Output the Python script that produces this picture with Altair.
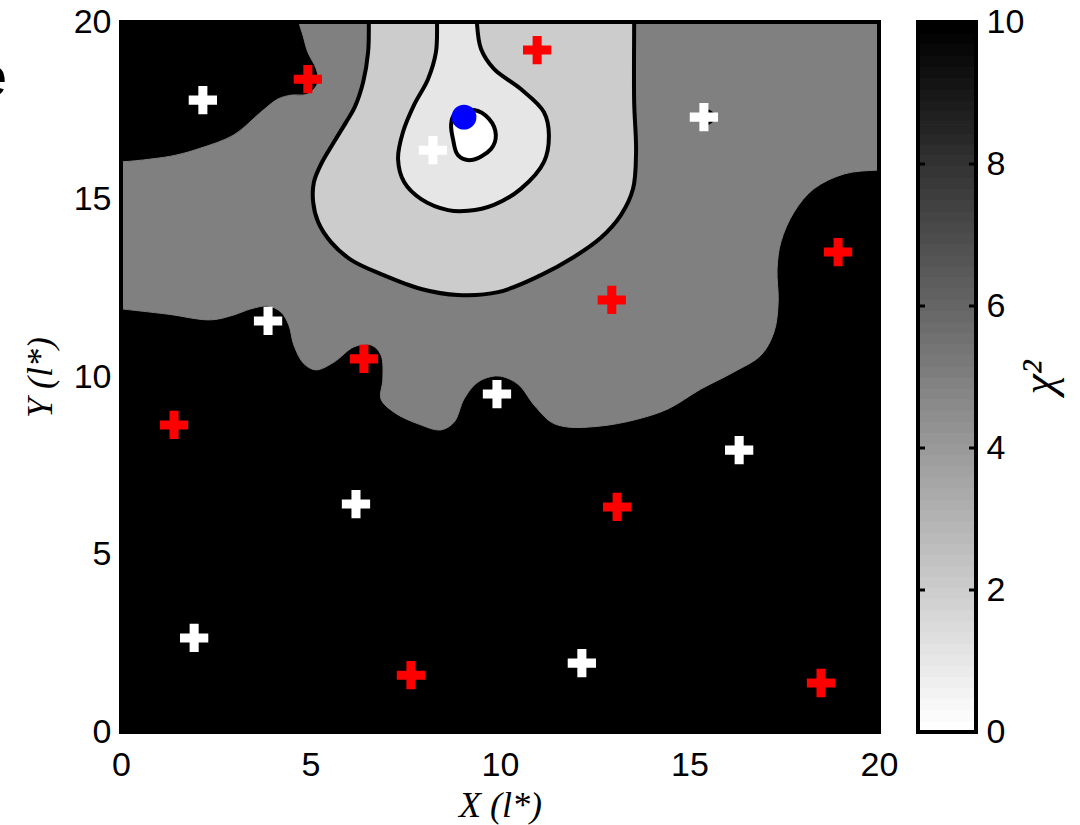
import altair as alt
import numpy as np
import pandas as pd

# ---------------------------------------------------------------------------
# Contour boundaries of chi^2 over the (X, Y) plane, in units of l*
# ---------------------------------------------------------------------------

# chi^2 = 5 band (gray) meets the black floor: lower edge, left to right
lo_x = [0, 1.24, 2.37, 2.98, 3.43, 3.88, 4.22, 4.43, 4.56, 4.83, 5.15, 5.62, 6.15,
        6.60, 6.86, 6.91, 6.86, 7.20, 7.84, 8.44, 8.79, 9.05, 9.42, 9.95, 10.47,
        10.90, 11.35, 11.79, 12.66, 13.54, 14.43, 15.30, 16.17, 16.89, 17.23,
        17.34, 17.31, 17.41, 17.76, 18.28, 19.08, 20]
lo_y = [11.92, 11.77, 11.61, 11.75, 11.92, 12.00, 11.83, 11.46, 10.90, 10.37, 10.20,
        10.42, 10.85, 10.90, 10.62, 9.94, 9.38, 9.01, 8.68, 8.51, 8.73, 9.38, 9.86,
        10.03, 9.80, 9.21, 8.73, 8.59, 8.62, 8.79, 9.10, 9.66, 10.14, 10.62, 11.27,
        12.11, 13.04, 13.80, 14.65, 15.30, 15.72, 15.83]

# black pocket in the upper-left corner, from the left edge to the top edge
tl_x = [0, 0.79, 1.45, 2.11, 2.98, 3.69, 4.14, 4.49, 4.93, 5.20, 5.15, 4.93, 4.80, 4.70]
tl_y = [16.06, 16.14, 16.25, 16.45, 16.82, 17.46, 17.83, 17.94, 17.97, 18.31, 18.68,
        19.15, 19.63, 20]

# chi^2 = 2 contour (top edge to top edge)
c2_x = [6.54, 6.52, 6.39, 6.17, 5.94, 5.62, 5.28, 5.09, 5.07, 5.20, 5.54, 6.07, 6.86,
        7.92, 8.89, 9.95, 11.08, 11.95, 12.66, 13.19, 13.51, 13.59, 13.54, 13.54]
c2_y = [20, 19.15, 18.31, 17.61, 17.18, 16.62, 16.00, 15.49, 14.93, 14.37, 13.80,
        13.30, 12.90, 12.48, 12.31, 12.39, 12.87, 13.38, 13.92, 14.56, 15.30, 16.34,
        17.75, 20]

# chi^2 = 1 contour (top edge to top edge)
c1_x = [8.34, 8.31, 8.10, 7.73, 7.44, 7.31, 7.47, 7.92, 8.63, 9.16, 9.84, 10.55,
        11.16, 11.29, 11.16, 10.55, 9.84, 9.50, 9.39]
c1_y = [20, 19.15, 18.39, 17.66, 16.90, 16.14, 15.49, 15.01, 14.70, 14.68, 14.85,
        15.30, 16.06, 16.82, 17.46, 18.11, 18.68, 19.24, 20]

# innermost closed contour around the minimum
c0_x = [8.71, 8.79, 9.31, 9.71, 9.89, 9.76, 9.23, 8.89, 8.76]
c0_y = [17.10, 17.38, 17.52, 17.27, 16.82, 16.42, 16.11, 16.25, 16.70]

# small black island under one of the white sources
island_x = [15.45]
island_y = [17.32]

# source positions
red_x = [4.93, 10.98, 12.95, 18.92, 6.41, 1.40, 13.09, 7.65, 18.47]
red_y = [18.39, 19.21, 12.17, 13.52, 10.51, 8.65, 6.34, 1.60, 1.38]
white_x = [2.16, 8.23, 15.38, 3.88, 9.92, 6.20, 16.31, 1.93, 12.16]
white_y = [17.80, 16.39, 17.32, 11.58, 9.52, 6.42, 7.94, 2.65, 1.94]

# best-fit position
best_x = [9.05]
best_y = [17.32]

# axis ranges and ticks
x_range = [0, 20]
y_range = [0, 20]
chi_range = [0, 10]
x_ticks = [0, 5, 10, 15, 20]
y_ticks = [0, 5, 10, 15, 20]
cb_labels = [0, 2, 4, 6, 8, 10]
cb_inner_ticks = [2, 4, 6, 8]

# level colours (gray colormap, chi^2 from 0 to 10)
GRAY5 = "#808080"
GRAY2 = "#cccccc"
GRAY1 = "#e6e6e6"
WHITE = "#ffffff"

W, H = 758, 710
CB_W = 58
OUT = 0.6  # how far closing vertices sit outside the frame (clipped away)


def path_df(xs, ys):
    return pd.DataFrame({"x": xs, "y": ys, "i": np.arange(len(xs))})


# gray band: lower edge, out around the upper-right corner, back along the black pocket
gray_x = lo_x + [20 + OUT, 20 + OUT, tl_x[-1]] + tl_x[::-1] + [-OUT, -OUT]
gray_y = lo_y + [lo_y[-1], 20 + OUT, 20 + OUT] + tl_y[::-1] + [tl_y[0], lo_y[0]]

# open contours, with their ends lifted past the top edge
c2_px = [c2_x[0]] + c2_x + [c2_x[-1]]
c2_py = [20 + OUT] + c2_y + [20 + OUT]
c1_px = [c1_x[0]] + c1_x + [c1_x[-1]]
c1_py = [20 + OUT] + c1_y + [20 + OUT]

# closed contour, wrapped so the spline joins smoothly
c0_px = [c0_x[-1]] + c0_x + c0_x[:2]
c0_py = [c0_y[-1]] + c0_y + c0_y[:2]

sx = alt.Scale(domain=x_range, nice=False, zero=False)
sy = alt.Scale(domain=y_range, nice=False, zero=False)
x_axis = alt.Axis(values=x_ticks, title="X (l*)", labelPadding=16, titlePadding=6,
                  ticks=False, domain=False, grid=False, labelFlush=False)
y_axis = alt.Axis(values=y_ticks, title="Y (l*)", labelPadding=10, titlePadding=14,
                  ticks=False, domain=False, grid=False, labelFlush=False)


def enc(chart):
    return chart.encode(
        x=alt.X("x:Q", scale=sx, axis=x_axis),
        y=alt.Y("y:Q", scale=sy, axis=y_axis),
        order=alt.Order("i:Q"),
    )


def region(xs, ys, fill):
    return enc(alt.Chart(path_df(xs, ys)).mark_line(
        fill=fill, stroke=fill, strokeWidth=1, interpolate="catmull-rom", clip=True))


def contour(xs, ys):
    return enc(alt.Chart(path_df(xs, ys)).mark_line(
        stroke="black", strokeWidth=4, interpolate="catmull-rom", clip=True,
        strokeJoin="round", strokeCap="round"))


PLUS = "M-1,-0.32H-0.32V-1H0.32V-0.32H1V0.32H0.32V1H-0.32V0.32H-1Z"


def points(xs, ys, mark):
    return alt.Chart(pd.DataFrame({"x": xs, "y": ys})).mark_point(**mark).encode(
        x=alt.X("x:Q", scale=sx, axis=x_axis),
        y=alt.Y("y:Q", scale=sy, axis=y_axis),
    )


# heavy box around the plot area
frame = alt.Chart(pd.DataFrame({"x0": [x_range[0]], "x1": [x_range[1]],
                                "y0": [y_range[0]], "y1": [y_range[1]]})).mark_rect(
    filled=False, stroke="black", strokeWidth=4).encode(
    x=alt.X("x0:Q", scale=sx, axis=x_axis), x2="x1:Q",
    y=alt.Y("y0:Q", scale=sy, axis=y_axis), y2="y1:Q",
)

layers = [
    region(gray_x, gray_y, GRAY5),
    region(c2_px, c2_py, GRAY2),
    region(c1_px, c1_py, GRAY1),
    region(c0_px, c0_py, WHITE),
    contour(c2_px, c2_py),
    contour(c1_px, c1_py),
    contour(c0_px, c0_py),
    points(island_x, island_y, dict(shape="circle", size=250, filled=True,
                                    color="black", opacity=1, strokeWidth=0)),
    points(red_x, red_y, dict(shape=PLUS, size=800, filled=True,
                              color="#ff0000", opacity=1, strokeWidth=0)),
    points(white_x, white_y, dict(shape=PLUS, size=800, filled=True,
                                  color="#ffffff", opacity=1, strokeWidth=0)),
    points(best_x, best_y, dict(shape="circle", size=616, filled=True,
                                color="#0000ff", opacity=1, strokeWidth=0)),
    frame,
    alt.Chart(pd.DataFrame({"t": ["e"]})).mark_text(
        font="Liberation Sans", fontSize=58, align="center", baseline="alphabetic",
        color="black").encode(text="t:N", x=alt.value(-130), y=alt.value(74)),
]

main = alt.layer(*layers).properties(
    width=W, height=H,
    view=alt.ViewBackground(fill="black", stroke="black", strokeWidth=4),
)

# ---------------------------------------------------------------------------
# colour bar: 64-step gray map over chi^2 in [0, 10]
# ---------------------------------------------------------------------------
n_steps = 64
edges = np.linspace(chi_range[0], chi_range[1], n_steps + 1)
shades = []
for k in range(n_steps):
    g = int(round(255 * (1 - k / (n_steps - 1))))
    shades.append(f"#{g:02x}{g:02x}{g:02x}")
cb_df = pd.DataFrame({"lo": edges[:-1], "hi": edges[1:], "shade": shades})

cb_scale = alt.Scale(domain=chi_range, nice=False, zero=False)
cb_axis = alt.Axis(orient="right", values=cb_labels, title="χ²", labelPadding=10,
                   titlePadding=40, titleAngle=270, titleFontSize=46, ticks=False,
                   domain=False, grid=False, labelFlush=False)

bands = alt.Chart(cb_df).mark_rect(strokeWidth=1).encode(
    y=alt.Y("lo:Q", scale=cb_scale, axis=cb_axis),
    y2="hi:Q",
    fill=alt.Fill("shade:N", scale=None),
    stroke=alt.Stroke("shade:N", scale=None),
)

tick_df = pd.DataFrame({"v": cb_inner_ticks})
tick_left = alt.Chart(tick_df).mark_rule(color="black", strokeWidth=3).encode(
    y=alt.Y("v:Q", scale=cb_scale, axis=cb_axis), x=alt.value(0), x2=alt.value(7))
tick_right = alt.Chart(tick_df).mark_rule(color="black", strokeWidth=3).encode(
    y=alt.Y("v:Q", scale=cb_scale, axis=cb_axis), x=alt.value(CB_W - 7), x2=alt.value(CB_W))

cb_frame = alt.Chart(pd.DataFrame({"lo": [chi_range[0]], "hi": [chi_range[1]]})).mark_rect(
    filled=False, stroke="black", strokeWidth=4).encode(
    y=alt.Y("lo:Q", scale=cb_scale, axis=cb_axis), y2="hi:Q",
)

colorbar = alt.layer(bands, tick_left, tick_right, cb_frame).properties(
    width=CB_W, height=H,
    view=alt.ViewBackground(stroke="black", strokeWidth=4),
)

chart = alt.hconcat(main, colorbar, spacing=14).properties(
    padding={"left": -28, "top": 3, "right": 0, "bottom": 0},
    background="white",
).configure_view(
    stroke="black", strokeWidth=4,
).configure_axis(
    labelFont="Liberation Sans", labelFontSize=34, labelColor="black",
    titleFont="Liberation Serif", titleFontSize=36, titleFontStyle="italic",
    titleFontWeight="normal", titleColor="black",
)

chart.save("out.html", embed_options={"renderer": "svg", "actions": False})
